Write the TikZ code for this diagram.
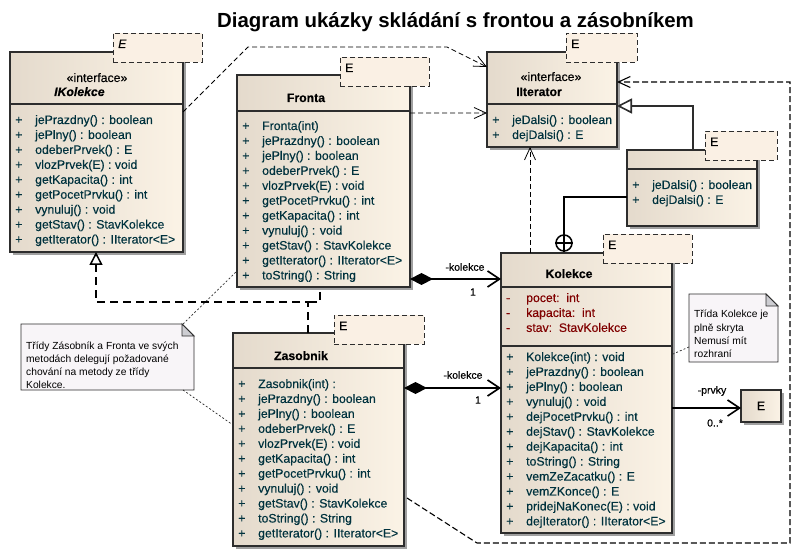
\documentclass[tikz,border=0pt]{standalone}
\usepackage{fontspec}
\setmainfont{Liberation Sans}
\newfontfamily\memfam[FakeBold=0.3]{Liberation Sans}
\usetikzlibrary{arrows.meta,shadows,calc,fit}
\definecolor{cL}{RGB}{228,218,204}
\definecolor{cR}{RGB}{251,243,230}
\definecolor{tplc}{RGB}{250,240,228}
\definecolor{mtext}{RGB}{0,50,62}
\definecolor{atext}{RGB}{128,0,0}
\definecolor{notefill}{RGB}{248,245,248}
\definecolor{shad}{RGB}{160,160,160}
\definecolor{edgec}{RGB}{45,45,45}
\definecolor{foldc}{RGB}{205,205,210}
\newcommand{\memfont}{\memfam\fontsize{12.3}{15}\selectfont}
\newcommand{\notefont}{\fontsize{10.3}{13.2}\selectfont}
\newcommand{\mem}[4]{\node[members, text=#4] (#1) at (#2) {\begin{tabular}[t]{@{}p{20bp}@{}l@{}}#3\end{tabular}};}
\begin{document}
\begin{tikzpicture}[x=1bp,y=-1bp,
  cls/.style={draw=edgec, line width=1.5bp, left color=cL, right color=cR, inner sep=0, outer sep=0,
    general shadow={fill=shad, shadow xshift=3bp, shadow yshift=-3bp}},
  divline/.style={draw=edgec, line width=1.5bp},
  tplbox/.style={draw=edgec, line width=0.9bp, dash pattern=on 5bp off 3bp, fill=tplc, inner sep=0, outer sep=0},
  tplE/.style={anchor=base west, inner sep=0, font=\memfont},
  hdr/.style={anchor=base, inner sep=0, font=\memfont},
  members/.style={anchor=base west, inner sep=0, font=\memfont},
  notebox/.style={inner sep=0, outer sep=0},
  notedraw/.style={draw=edgec, line width=0.9bp, fill=notefill},
  notetext/.style={anchor=base west, inner sep=0, font=\notefont},
  lbl/.style={inner sep=0, font=\memfam\fontsize{10.5}{12}\selectfont},
  dep/.style={draw=black, line width=0.8bp, dash pattern=on 5bp off 3bp, -{Straight Barb[length=12bp,width=11bp]}},
  depL/.style={draw=black, line width=1.1bp, dash pattern=on 6bp off 3bp, -{Straight Barb[length=12bp,width=11bp]}},
  comp/.style={draw=black, line width=1.6bp, {Diamond[length=23bp,width=12bp]}-{Straight Barb[length=12bp,width=16bp]}},
  assoc/.style={draw=black, line width=1.6bp, -{Straight Barb[length=12bp,width=16bp]}},
  gen/.style={draw=edgec, line width=1.6bp, -{Triangle[length=15bp,width=15bp,fill=white]}},
  real/.style={draw=black, line width=2.4bp, dash pattern=on 8bp off 5bp},
  realtip/.style={real, -{Triangle[length=13bp,width=13bp,fill=white,line width=1.5bp]}},
  nestline/.style={draw=black, line width=1.6bp},
  nestc/.style={circle, draw=black, line width=1.5bp, fill=white, minimum size=16bp, inner sep=0},
  notelink/.style={draw=edgec, line width=0.7bp, dash pattern=on 2bp off 2bp}]

\fill[white] (0,0) rectangle (810,556);
\useasboundingbox (0,0) rectangle (810,556);

% title
\node[anchor=base west, inner sep=0, font=\fontsize{20.5}{24}\selectfont\bfseries] (title) at (217,28) {Diagram ukázky skládání s frontou a zásobníkem};

% class boxes
\node[cls, fit={(10,52) (183,252)}] (IK) {};
\node[cls, fit={(237,75) (410,287)}] (FR) {};
\node[cls, fit={(487,52) (617,147)}] (IT) {};
\node[cls, fit={(627,150) (757,226)}] (IN) {};
\node[cls, fit={(501,253) (672,533)}] (KO) {};
\node[cls, fit={(233,333) (404,546)}] (ZA) {};
\node[cls, fit={(741,390) (781,422)}] (EB) {};

% dividers
\draw[divline] (IK.west |- 0,104) -- (IK.east |- 0,104);
\draw[divline] (FR.west |- 0,111) -- (FR.east |- 0,111);
\draw[divline] (IT.west |- 0,104) -- (IT.east |- 0,104);
\draw[divline] (IN.west |- 0,169) -- (IN.east |- 0,169);
\draw[divline] (KO.west |- 0,287) -- (KO.east |- 0,287);
\draw[divline] (KO.west |- 0,346) -- (KO.east |- 0,346);
\draw[divline] (ZA.west |- 0,368) -- (ZA.east |- 0,368);

% template boxes
\node[tplbox, fit={(113,33) (202,62)}] (IKt) {};
\node[tplbox, fit={(340,57) (429,86)}] (FRt) {};
\node[tplbox, fit={(566,33) (637,62)}] (ITt) {};
\node[tplbox, fit={(705,131) (777,160)}] (INt) {};
\node[tplbox, fit={(603,234) (692,263)}] (KOt) {};
\node[tplbox, fit={(334,315) (424,344)}] (ZAt) {};
\node[tplE, font=\memfont\itshape] (IKtE) at ($(IKt.north west)+(5,15)$) {E};
\node[tplE] (FRtE) at ($(FRt.north west)+(5,15)$) {E};
\node[tplE] (ITtE) at ($(ITt.north west)+(5,15)$) {E};
\node[tplE] (INtE) at ($(INt.north west)+(5,15)$) {E};
\node[tplE] (KOtE) at ($(KOt.north west)+(5,15)$) {E};
\node[tplE] (ZAtE) at ($(ZAt.north west)+(5,15)$) {E};

% headers
\node[hdr] (IKst) at (97,82) {«interface»};
\node[anchor=base west, inner sep=0, font=\memfont\bfseries\itshape] (IKn) at (54,96) {IKolekce};
\node[hdr, font=\memfont\bfseries] (FRn) at (306,102) {Fronta};
\node[hdr] (ITst) at (551,81) {«interface»};
\node[anchor=base west, inner sep=0, font=\memfont\bfseries] (ITn) at (516,96) {IIterator};
\node[hdr, font=\memfont\bfseries] (KOn) at (569,278) {Kolekce};
\node[hdr, font=\memfont\bfseries] (ZAn) at (301,360) {Zasobnik};
\node[hdr] (EBn) at (761,410) {E};

% members
\mem{IKm}{15,124}{+ & jePrazdny() : boolean\\ + & jePlny() : boolean\\ + & odeberPrvek() : E\\ + & vlozPrvek(E) : void\\ + & getKapacita() : int\\ + & getPocetPrvku() : int\\ + & vynuluj() : void\\ + & getStav() : StavKolekce\\ + & getIterator() : IIterator<E>}{mtext}
\mem{FRm}{242,130}{+ & Fronta(int)\\ + & jePrazdny() : boolean\\ + & jePlny() : boolean\\ + & odeberPrvek() : E\\ + & vlozPrvek(E) : void\\ + & getPocetPrvku() : int\\ + & getKapacita() : int\\ + & vynuluj() : void\\ + & getStav() : StavKolekce\\ + & getIterator() : IIterator<E>\\ + & toString() : String}{mtext}
\mem{ITm}{492,124}{+ & jeDalsi() : boolean\\ + & dejDalsi() : E}{mtext}
\mem{INm}{632,189}{+ & jeDalsi() : boolean\\ + & dejDalsi() : E}{mtext}
\mem{KOa}{506,302}{- & pocet:\ \ int\\ - & kapacita:\ \ int\\ - & stav:\ \ StavKolekce}{atext}
\mem{KOm}{506,361}{+ & Kolekce(int) : void\\ + & jePrazdny() : boolean\\ + & jePlny() : boolean\\ + & vynuluj() : void\\ + & dejPocetPrvku() : int\\ + & dejStav() : StavKolekce\\ + & dejKapacita() : int\\ + & toString() : String\\ + & vemZeZacatku() : E\\ + & vemZKonce() : E\\ + & pridejNaKonec(E) : void\\ + & dejIterator() : IIterator<E>}{mtext}
\mem{ZAm}{238,388}{+ & Zasobnik(int) :\\ + & jePrazdny() : boolean\\ + & jePlny() : boolean\\ + & odeberPrvek() : E\\ + & vlozPrvek(E) : void\\ + & getKapacita() : int\\ + & getPocetPrvku() : int\\ + & vynuluj() : void\\ + & getStav() : StavKolekce\\ + & toString() : String\\ + & getIterator() : IIterator<E>}{mtext}

% notes
\node[notebox, fit={(21,324) (194,390)}] (N1) {};
\draw[notedraw] (N1.south west) -- (N1.north west) -- ($(N1.north east)+(-12,0)$) -- ($(N1.north east)+(0,12)$) -- (N1.south east) -- cycle;
\draw[notedraw, fill=foldc] ($(N1.north east)+(-12,0)$) -- ($(N1.north east)+(-12,12)$) -- ($(N1.north east)+(0,12)$) -- cycle;
\node[notetext] (N1t) at (26,349) {\begin{tabular}[t]{@{}l@{}}Třídy Zásobník a Fronta ve svých\\ metodách delegují požadované\\ chování na metody ze třídy\\ Kolekce.\end{tabular}};

\node[notebox, fit={(689,294) (778,362)}] (N2) {};
\draw[notedraw] (N2.south west) -- (N2.north west) -- ($(N2.north east)+(-12,0)$) -- ($(N2.north east)+(0,12)$) -- (N2.south east) -- cycle;
\draw[notedraw, fill=foldc] ($(N2.north east)+(-12,0)$) -- ($(N2.north east)+(-12,12)$) -- ($(N2.north east)+(0,12)$) -- cycle;
\node[notetext] (N2t) at (694,318) {\begin{tabular}[t]{@{}l@{}}Třída Kolekce je\\ plně skryta\\ Nemusí mít\\ rozhraní\end{tabular}};

% note links
\draw[notelink] ($(N1.north east)+(-11,0)$) -- ($(FR.south west)+(0,-16)$);
\draw[notelink] ($(N1.south east)+(-11,0)$) -- ($(ZA.north west)+(0,92)$);
\draw[notelink] ($(N2.north west)+(0,53)$) -- ($(KO.north east)+(1,101)$);

% dependencies to IIterator
\draw[dep] ($(IK.north east)+(0,60)$) -- ++(65,-65) -- ++(199,0) -- ($(IT.north west)+(0,15)$);
\draw[dep] ($(FR.north east)+(0,38)$) -- ($(IT.north west)+(0,61)$);
\draw[dep] ($(KO.north west)+(29,0)$) -- ($(IT.south west)+(43,0)$);
\draw[depL] ($(ZA.north east)+(3,165)$) -- ++(70,45) -| ($(IT.north east)+(173,30)$) -- ($(IT.north east)+(0,30)$);

% compositions
\draw[comp] ($(FR.north east)+(0,204)$) -- ($(KO.north west)+(0,26)$);
\draw[comp] ($(ZA.north east)+(0,55)$) -- ($(KO.north west)+(0,135)$);
\node[lbl] (l1) at (465,267) {-kolekce};
\node[lbl] (l1m) at (473,292) {1};
\node[lbl] (l2) at (463,375) {-kolekce};
\node[lbl] (l2m) at (478,400) {1};

% association to E
\draw[assoc] ($(KO.north east)+(0,155)$) -- ($(EB.north west)+(0,18)$);
\node[lbl] (l3) at (712,391) {-prvky};
\node[lbl] (l3m) at (715,423) {0..*};

% generalization of inner class
\draw[gen] ($(IN.north west)+(66,0)$) |- ($(IT.north east)+(0,54)$);

% nesting
\node[nestc] (nest) at (564,243) {};
\draw[nestline] (nest.north) -- (nest.south) (nest.west) -- (nest.east);
\draw[nestline] ($(IN.north west)+(0,47)$) -| (nest.north);

% realizations
\coordinate (J) at (308,302);
\draw[realtip] ($(ZA.north west)+(75,0)$) -- (J) -| ($(IK.south west)+(86,0)$);
\draw[real] ($(FR.south west)+(83,5)$) |- (J);

\end{tikzpicture}
\end{document}
